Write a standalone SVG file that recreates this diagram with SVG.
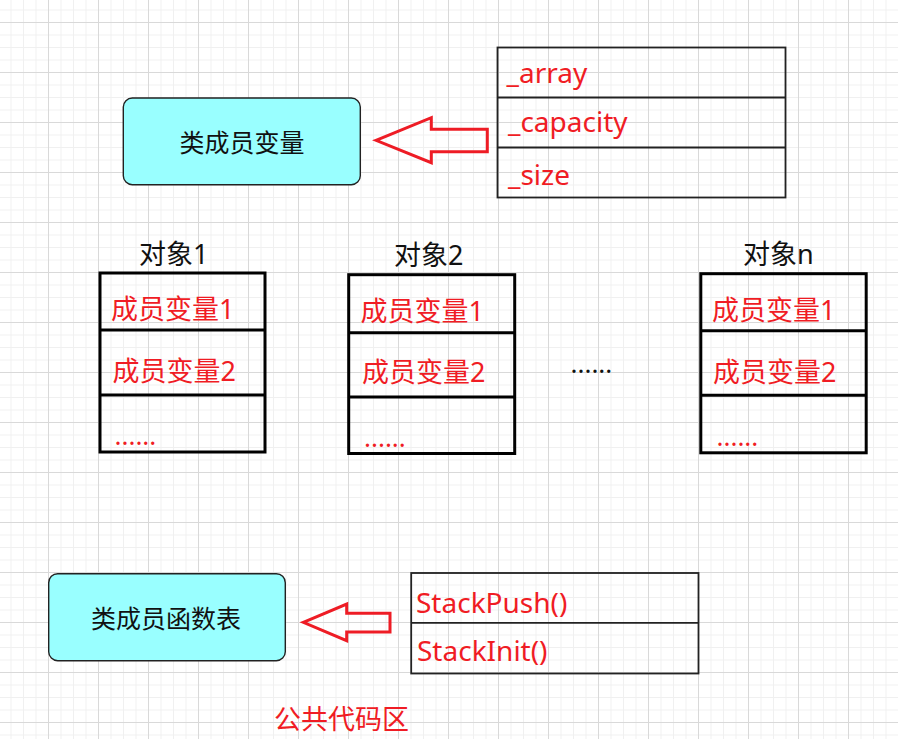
<svg xmlns="http://www.w3.org/2000/svg" width="898" height="739" viewBox="0 0 898 739">
<style>
.t{font-family:"Noto Sans","Noto Sans CJK SC",sans-serif}
.blk{fill:#111;font-size:25px}
.lab{fill:#111;font-size:27px}
.red{fill:#f01c24;font-size:28px}
.redc{fill:#f01c24;font-size:27px}
.dots{font-size:26px}
.node{fill:#99ffff;stroke:#222;stroke-width:1.4}
.obj{fill:none;stroke:#000;stroke-width:3}
.tbl{fill:none;stroke:#222;stroke-width:1.8}
.arrow{fill:none;stroke:#ee1c25;stroke-width:3;stroke-linejoin:miter}
</style>
<defs>
<pattern id="minor" width="12.5" height="12.5" patternUnits="userSpaceOnUse" x="-2" y="-3">
<rect x="0" y="0" width="12.5" height="1" fill="#f0f0f0"/>
<rect x="0" y="0" width="1" height="12.5" fill="#f0f0f0"/>
</pattern>
<pattern id="major" width="50" height="50" patternUnits="userSpaceOnUse" x="-2" y="-28">
<rect x="0" y="0" width="50" height="1" fill="#d9d9d9"/>
<rect x="0" y="0" width="1" height="50" fill="#d9d9d9"/>
</pattern>
</defs>
<rect width="898" height="739" fill="#fff"/>
<rect width="898" height="739" fill="url(#minor)"/>
<rect width="898" height="739" fill="url(#major)"/>

<g id="member-var-node">
<rect class="node" x="123.3" y="98" width="237" height="86.7" rx="9"/>
<text class="t blk" x="242" y="152" text-anchor="middle">类成员变量</text>
</g>

<g id="member-var-table">
<rect class="tbl" x="497.5" y="47.5" width="288" height="150"/>
<line class="tbl" x1="497.5" y1="97.5" x2="785.5" y2="97.5"/>
<line class="tbl" x1="497.5" y1="147.5" x2="785.5" y2="147.5"/>
<text class="t red" x="506.5" y="83">_array</text>
<text class="t red" x="508" y="132">_capacity</text>
<text class="t red" x="508" y="185">_size</text>
</g>

<g id="object1">
<text class="t lab" x="139" y="264">对象1</text>
<rect class="obj" x="100" y="273" width="165" height="179"/>
<line class="obj" x1="100" y1="330" x2="265" y2="330"/>
<line class="obj" x1="100" y1="395" x2="265" y2="395"/>
<text class="t redc" x="111" y="318.5">成员变量1</text>
<text class="t redc" x="112.5" y="380.5">成员变量2</text>
<text class="t redc dots" x="114.5" y="445">......</text>
</g>

<g id="object2">
<text class="t lab" x="394" y="265">对象2</text>
<rect class="obj" x="348.7" y="274.7" width="166" height="178.8"/>
<line class="obj" x1="348.7" y1="332.7" x2="514.7" y2="332.7"/>
<line class="obj" x1="348.7" y1="397" x2="514.7" y2="397"/>
<text class="t redc" x="360.5" y="320.5">成员变量1</text>
<text class="t redc" x="362" y="382">成员变量2</text>
<text class="t redc dots" x="364" y="447">......</text>
</g>

<g id="ellipsis">
<text class="t lab dots" x="570.5" y="373">......</text>
</g>

<g id="objectn">
<text class="t lab" x="743" y="264">对象n</text>
<rect class="obj" x="700.8" y="273.7" width="165.4" height="179.1"/>
<line class="obj" x1="700.8" y1="330.8" x2="866.2" y2="330.8"/>
<line class="obj" x1="700.8" y1="395.3" x2="866.2" y2="395.3"/>
<text class="t redc" x="712" y="319.7">成员变量1</text>
<text class="t redc" x="713" y="381.8">成员变量2</text>
<text class="t redc dots" x="716.5" y="445.5">......</text>
</g>

<g id="member-func-node">
<rect class="node" x="48.7" y="573.7" width="236.6" height="87" rx="9"/>
<text class="t blk" x="166" y="628" text-anchor="middle">类成员函数表</text>
</g>

<g id="member-func-table">
<rect class="tbl" x="411.2" y="573" width="287.3" height="100.5" stroke="#333"/>
<line class="tbl" x1="411.2" y1="622.8" x2="698.5" y2="622.8"/>
<text class="t red" x="416" y="613">StackPush()</text>
<text class="t red" x="417" y="660.5">StackInit()</text>
</g>

<g id="public-code-label">
<text class="t redc" x="274" y="728.5">公共代码区</text>
</g>

<g id="connectors">
<polygon class="arrow" points="376,140.3 431.3,117.7 431.3,129.3 487.3,129.3 487.3,151.7 431.3,151.7 431.3,162.7"/>
<polygon class="arrow" points="303.3,622.3 346.7,604 346.7,613.3 390,613.3 390,632 346.7,632 346.7,640.7" stroke-width="2.7"/>
</g>
</svg>
